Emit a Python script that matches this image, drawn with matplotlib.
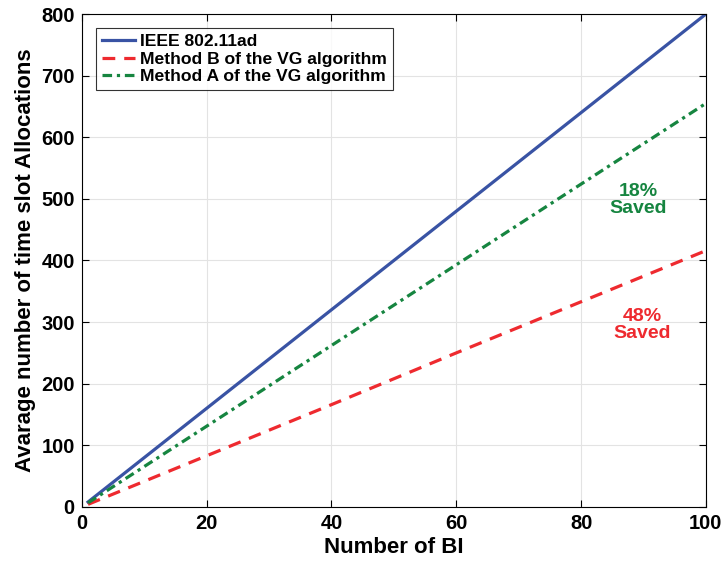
import numpy as np
import matplotlib.pyplot as plt

plt.rcParams['font.family'] = ['Liberation Sans', 'DejaVu Sans']
plt.rcParams['font.weight'] = 'bold'

# values
bi = [1, 20, 40, 60, 80, 100]
ieee = [8, 160, 320, 480, 640, 800]
method_a = [6.6, 131, 262, 393, 524, 655]
method_b = [4.2, 83, 166, 250, 333, 416]

fig = plt.figure(figsize=(7.24, 5.62), dpi=100)
ax = fig.add_axes([0.113, 0.098, 0.862, 0.877])

ax.plot(bi, ieee, color='#3953a4', lw=2.3, label='IEEE 802.11ad')
ax.plot(bi, method_b, color='#ee2a2f', lw=2.3, ls=(0, (4, 2.8)), label='Method B of the VG algorithm')
ax.plot(bi, method_a, color='#168540', lw=2.3, ls=(0, (3, 1.5, 1, 1.5)), label='Method A of the VG algorithm')

ax.text(89.1, 498, '18%\nSaved', color='#168540', fontsize=14, fontweight='bold',
        ha='center', va='center', linespacing=1.0)
ax.text(89.8, 296, '48%\nSaved', color='#ee2a2f', fontsize=14, fontweight='bold',
        ha='center', va='center', linespacing=1.0)

ax.set_xlim(0, 100)
ax.set_ylim(0, 800)
ax.set_xticks(range(0, 101, 20))
ax.set_yticks(range(0, 801, 100))
ax.grid(True, color='#e3e3e3', lw=0.8)
ax.tick_params(direction='in', labelsize=14.5, length=5, top=True, right=True, pad=5)
for lab in ax.get_xticklabels() + ax.get_yticklabels():
    lab.set_fontweight('bold')
ax.set_xlabel('Number of BI', fontsize=16, fontweight='bold', labelpad=3)
ax.set_ylabel('Avarage number of time slot Allocations', fontsize=16, fontweight='bold', labelpad=4)

leg = ax.legend(loc='upper left', fontsize=12.6, frameon=True, fancybox=False,
                edgecolor='black', handlelength=1.9, borderpad=0.35,
                labelspacing=0.12, handletextpad=0.3, borderaxespad=0.8)
leg.get_frame().set_linewidth(0.8)
for t in leg.get_texts():
    t.set_fontweight('bold')

fig.savefig('out.png', dpi=100)
